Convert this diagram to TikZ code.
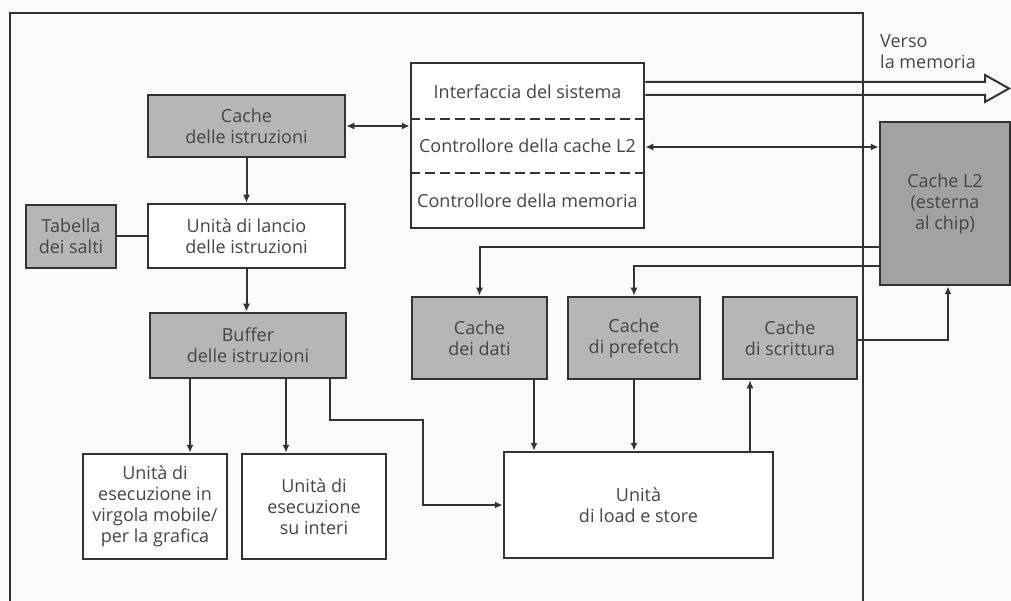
\documentclass[tikz,border=0pt]{standalone}
\usepackage{fontspec}
\setmainfont{Open Sans}
\usetikzlibrary{arrows.meta}
\definecolor{ln}{HTML}{333333}
\definecolor{tx}{HTML}{454545}
\definecolor{sh}{HTML}{B6B6B6}
\definecolor{shd}{HTML}{A2A2A2}
\definecolor{bg}{HTML}{FBFBFB}
\tikzset{
  blk/.style={draw=ln, line width=2.5pt, align=center, text=tx, inner sep=0pt,
    font=\fontsize{18}{21}\selectfont},
  shaded/.style={blk, fill=sh},
  plain/.style={blk, fill=white},
  lbl/.style={text=tx, inner sep=0pt, font=\fontsize{18}{21}\selectfont},
  conn/.style={draw=ln, line width=2pt},
  arr/.style={conn, -{Latex[length=8pt,width=7pt]}},
  darr/.style={conn, {Latex[length=8pt,width=7pt]}-{Latex[length=8pt,width=7pt]}},
}
\begin{document}
\begin{tikzpicture}[x=1pt,y=-1pt]
\path[fill=bg] (0,0) rectangle (1011,601);
\useasboundingbox (0,0) rectangle (1011,601);
% chip frame
\draw[ln, line width=2.2pt] (10,601) -- (10,13) -- (863,13) -- (863,601);

% nodes
\node[shaded, minimum width=197pt, minimum height=62pt] (ci) at (246.5,126) {Cache\\delle istruzioni};
\node[shaded, minimum width=90pt, minimum height=63pt] (tab) at (71,236.5) {Tabella\\dei salti};
\node[plain, minimum width=197pt, minimum height=64pt] (lan) at (246.5,236) {Unità di lancio\\delle istruzioni};
\node[shaded, minimum width=196pt, minimum height=65pt] (buf) at (248,345.5) {Buffer\\delle istruzioni};
\node[plain, minimum width=144pt, minimum height=105pt] (fp) at (155,506.5) {Unità di\\esecuzione in\\virgola mobile/\\per la grafica};
\node[plain, minimum width=144pt, minimum height=105pt] (int) at (314,506.5) {Unità di\\esecuzione\\su interi};
\node[plain, minimum width=233pt, minimum height=165pt] (sys) at (527.5,145.5) {};
\node[lbl] (t1) at (527.5,92) {Interfaccia del sistema};
\node[lbl] (t2) at (527.5,146) {Controllore della cache L2};
\node[lbl] (t3) at (527.5,201) {Controllore della memoria};
\draw[ln, line width=2.2pt, dash pattern=on 10pt off 5pt] (sys.west |- 0,119) -- (sys.east |- 0,119);
\draw[ln, line width=2.2pt, dash pattern=on 10pt off 5pt] (sys.west |- 0,173) -- (sys.east |- 0,173);
\node[shaded, minimum width=135pt, minimum height=82pt] (dati) at (479.5,338) {Cache\\dei dati};
\node[shaded, minimum width=132pt, minimum height=82pt] (pre) at (634,338) {Cache\\di prefetch};
\node[shaded, minimum width=134pt, minimum height=82pt] (scr) at (790,338) {Cache\\di scrittura};
\node[plain, minimum width=269pt, minimum height=106pt] (ls) at (638.5,505) {Unità\\di load e store};
\node[blk, fill=shd, minimum width=130pt, minimum height=163pt] (l2) at (945,203.5) {Cache L2\\(esterna\\al chip)};
\node[lbl, align=left, anchor=north west] (verso) at (880,34) {Verso\\la memoria};

% big hollow arrow towards memory
\draw[ln, line width=2pt, line join=miter] (sys.east |- 0,82) -- (985,82) -- (985,75) -- (1009,88.5) -- (985,102) -- (985,95) -- (sys.east |- 0,95);

% connectors
\draw[arr] (ci.south) -- (lan.north);
\draw[conn] (tab.east) -- (lan.west |- tab.east);
\draw[arr] (lan.south) -- (lan.south |- buf.north);
\draw[arr] (190,0 |- buf.south) -- (190,0 |- fp.north);
\draw[arr] (286,0 |- buf.south) -- (286,0 |- int.north);
\draw[arr] (330,0 |- buf.south) -- (330,420) -- (423,420) |- (ls.west);
\draw[darr] (ci.east) -- (sys.west |- ci.east);
\draw[darr] (sys.east |- 0,147) -- (l2.west |- 0,147);
\draw[arr] (l2.west |- 0,247) -| (dati.north);
\draw[arr] (l2.west |- 0,266) -| (pre.north);
\draw[arr] (534,0 |- dati.south) -- (534,0 |- ls.north);
\draw[arr] (pre.south) -- (pre.south |- ls.north);
\draw[arr] (750,0 |- ls.north) -- (750,0 |- scr.south);
\draw[arr] (scr.east |- 0,340) -| (948,0 |- l2.south);
\end{tikzpicture}
\end{document}
